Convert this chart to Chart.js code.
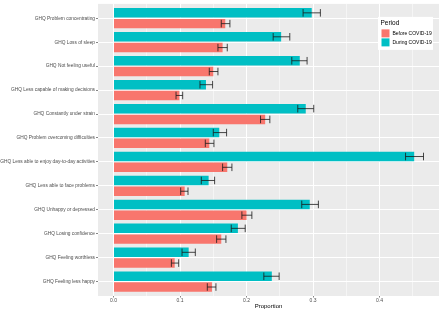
<!DOCTYPE html>
<html>
<head>
<meta charset="utf-8">
<script src="https://cdn.jsdelivr.net/npm/chart.js@4.4.0/dist/chart.umd.min.js"></script>
<style>
  body { margin: 0; background: #fff; }
</style>
</head>
<body>
<canvas id="ghqChart" width="440" height="310"></canvas>
<script>
// GHQ items, top to bottom
const items = [
    'GHQ Problem concentrating',
    'GHQ Loss of sleep',
    'GHQ Not feeling useful',
    'GHQ Less capable of making decisions',
    'GHQ Constantly under strain',
    'GHQ Problem overcoming difficulties',
    'GHQ Less able to enjoy day-to-day activities',
    'GHQ Less able to face problems',
    'GHQ Unhappy or depressed',
    'GHQ Losing confidence',
    'GHQ Feeling worthless',
    'GHQ Feeling less happy'
];
const periods = ['Before COVID-19', 'During COVID-19'];

const beforeValues = [0.168, 0.164, 0.150, 0.099, 0.228, 0.144, 0.171, 0.107, 0.200, 0.162, 0.092, 0.148];
const beforeLower  = [0.162, 0.157, 0.144, 0.094, 0.221, 0.138, 0.164, 0.101, 0.193, 0.155, 0.087, 0.141];
const beforeUpper  = [0.175, 0.171, 0.157, 0.104, 0.235, 0.151, 0.178, 0.112, 0.208, 0.169, 0.098, 0.154];

const duringValues = [0.298, 0.252, 0.280, 0.139, 0.289, 0.159, 0.452, 0.143, 0.295, 0.187, 0.113, 0.238];
const duringLower  = [0.285, 0.240, 0.268, 0.130, 0.277, 0.150, 0.439, 0.132, 0.283, 0.177, 0.103, 0.226];
const duringUpper  = [0.311, 0.265, 0.291, 0.149, 0.301, 0.170, 0.466, 0.152, 0.308, 0.198, 0.123, 0.249];

const xMajorTicks = [0, 0.1, 0.2, 0.3, 0.4];
const xMinorTicks = [0.05, 0.15, 0.25, 0.35, 0.45];

const colors = { before: '#F8766D', during: '#00BFC4' };

const toPoints = (vals) => vals.map((v, i) => ({ x: v, y: i }));

// gray panel like ggplot
const panelPlugin = {
    id: 'panel',
    beforeDraw(chart) {
        const { ctx, chartArea: a } = chart;
        ctx.save();
        ctx.fillStyle = '#EBEBEB';
        ctx.fillRect(a.left, a.top, a.right - a.left, a.bottom - a.top);
        ctx.restore();
    }
};

// horizontal error bars
const errorBarPlugin = {
    id: 'errorBars',
    afterDatasetsDraw(chart) {
        const { ctx } = chart;
        const xScale = chart.scales.x;
        ctx.save();
        ctx.strokeStyle = '#1a1a1a';
        ctx.lineWidth = 0.8;
        chart.data.datasets.forEach((ds, di) => {
            const meta = chart.getDatasetMeta(di);
            meta.data.forEach((bar, i) => {
                const x1 = xScale.getPixelForValue(ds.lower[i]);
                const x2 = xScale.getPixelForValue(ds.upper[i]);
                const y = bar.y;
                const h = bar.height * 0.4;
                ctx.beginPath();
                ctx.moveTo(x1, y); ctx.lineTo(x2, y);
                ctx.moveTo(x1, y - h); ctx.lineTo(x1, y + h);
                ctx.moveTo(x2, y - h); ctx.lineTo(x2, y + h);
                ctx.stroke();
            });
        });
        ctx.restore();
    }
};

// legend box inside the panel, top right
const legendPlugin = {
    id: 'periodLegend',
    afterDraw(chart) {
        const { ctx, chartArea: a } = chart;
        const left = a.right - 61, top = a.top + 13;
        ctx.save();
        ctx.fillStyle = '#fff';
        ctx.fillRect(left, top, 55, 33);
        ctx.fillStyle = '#000';
        ctx.font = '6.5px "Liberation Sans", Arial, sans-serif';
        ctx.textBaseline = 'middle';
        ctx.fillText('Period', left + 2.5, top + 6);
        const keys = [
            { label: periods[0], color: colors.before },
            { label: periods[1], color: colors.during }
        ];
        ctx.font = '5px "Liberation Sans", Arial, sans-serif';
        keys.forEach((k, i) => {
            const ky = top + 12.5 + i * 9;
            ctx.fillStyle = k.color;
            ctx.fillRect(left + 3.5, ky, 8, 8);
            ctx.fillStyle = '#000';
            ctx.fillText(k.label, left + 14.5, ky + 4);
        });
        ctx.restore();
    }
};

const isMajor = (v) => xMajorTicks.some(t => Math.abs(t - v) < 1e-9);

new Chart(document.getElementById('ghqChart'), {
    type: 'bar',
    data: {
        datasets: [
            {
                label: periods[1],
                data: toPoints(duringValues),
                lower: duringLower,
                upper: duringUpper,
                backgroundColor: colors.during
            },
            {
                label: periods[0],
                data: toPoints(beforeValues),
                lower: beforeLower,
                upper: beforeUpper,
                backgroundColor: colors.before
            }
        ]
    },
    options: {
        indexAxis: 'y',
        responsive: false,
        animation: false,
        devicePixelRatio: 1,
        categoryPercentage: 0.9,
        barPercentage: 0.88,
        layout: { padding: { top: 0, right: 1, left: 0, bottom: 0 } },
        scales: {
            x: {
                type: 'linear',
                bounds: 'data',
                min: -0.0233,
                max: 0.4893,
                afterBuildTicks(scale) {
                    scale.ticks = xMajorTicks.concat(xMinorTicks)
                        .sort((a, b) => a - b)
                        .map(v => ({ value: v }));
                },
                afterFit(scale) { scale.height = 14; },
                border: { display: false },
                grid: {
                    color: '#fff',
                    lineWidth: (c) => isMajor(c.tick.value) ? 1 : 0.5,
                    tickColor: (c) => isMajor(c.tick.value) ? '#333' : 'rgba(0,0,0,0)',
                    tickLength: 1.5,
                    tickWidth: 0.6
                },
                ticks: {
                    autoSkip: false,
                    maxRotation: 0,
                    padding: 0,
                    color: '#4D4D4D',
                    font: { family: '"Liberation Sans", Arial, sans-serif', size: 5 },
                    callback: (v) => isMajor(v) ? v.toFixed(1) : ''
                },
                title: {
                    display: true,
                    text: 'Proportion',
                    color: '#000',
                    padding: 0,
                    font: { family: '"Liberation Sans", Arial, sans-serif', size: 6 }
                }
            },
            y: {
                type: 'linear',
                bounds: 'data',
                offset: false,
                reverse: true,
                min: -0.6,
                max: items.length - 1 + 0.6,
                afterBuildTicks(scale) {
                    scale.ticks = items.map((_, i) => ({ value: i }));
                },
                afterFit(scale) { scale.width = 98; },
                border: { display: false },
                grid: {
                    offset: false,
                    color: '#fff',
                    lineWidth: 1,
                    tickColor: '#333',
                    tickLength: 2,
                    tickWidth: 0.6
                },
                ticks: {
                    autoSkip: false,
                    padding: 1,
                    color: '#4D4D4D',
                    font: { family: '"Liberation Sans", Arial, sans-serif', size: 4.8 },
                    callback: (v) => items[v]
                }
            }
        },
        plugins: {
            legend: { display: false },
            tooltip: { enabled: false }
        }
    },
    plugins: [panelPlugin, errorBarPlugin, legendPlugin]
});
</script>
</body>
</html>
